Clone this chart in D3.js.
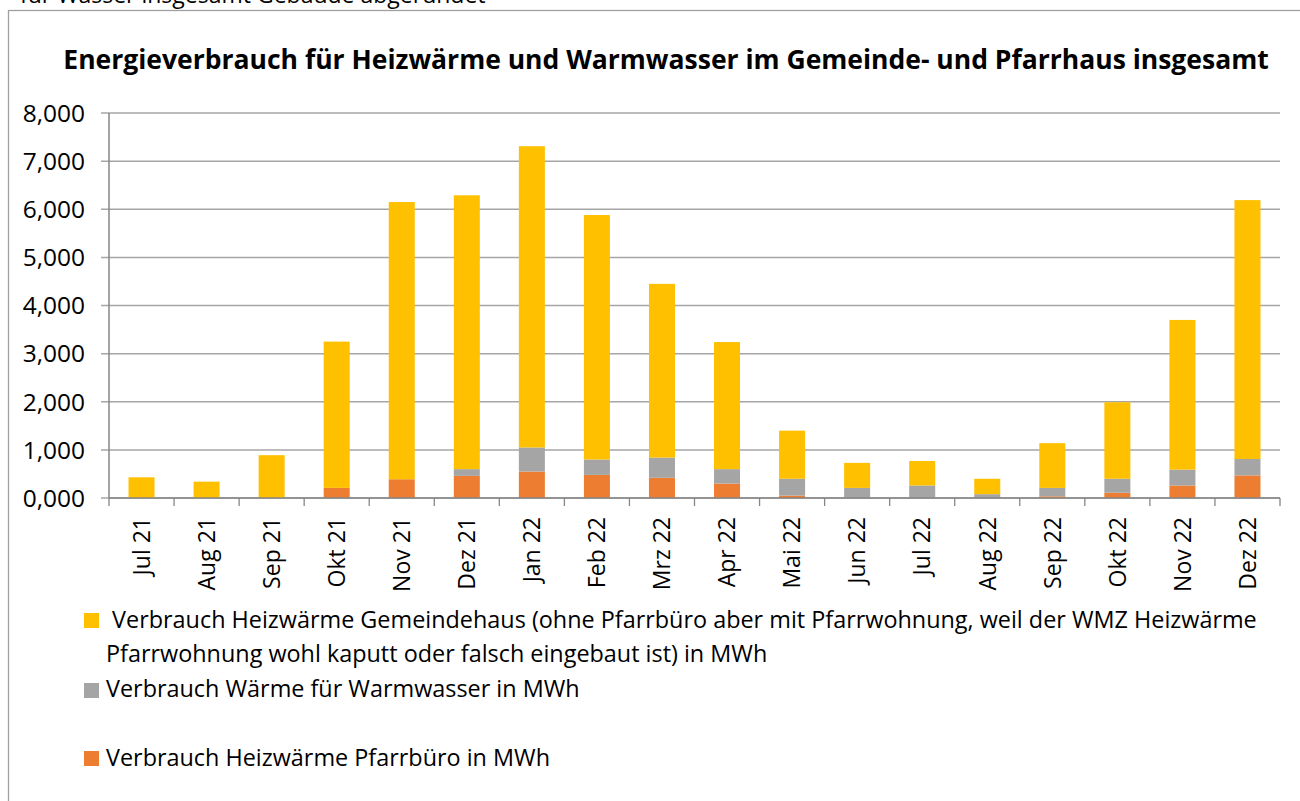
<!DOCTYPE html>
<html>
<head>
<meta charset="utf-8">
<script src="https://cdn.jsdelivr.net/npm/d3@7"></script>
<style>
  body { margin: 0; background: #fff; }
  svg { display: block; font-family: "Open Sans", sans-serif; }
</style>
</head>
<body>
<div id="chart"></div>
<script>
// Monthly consumption, stacked: Pfarrbüro (bottom), Warmwasser, Gemeindehaus (top)
const months = ["Jul 21", "Aug 21", "Sep 21", "Okt 21", "Nov 21", "Dez 21", "Jan 22", "Feb 22", "Mrz 22",
    "Apr 22", "Mai 22", "Jun 22", "Jul 22", "Aug 22", "Sep 22", "Okt 22", "Nov 22", "Dez 22"];
const pfarrbuero = [0, 0, 0, 0.21, 0.39, 0.46, 0.55, 0.48, 0.42, 0.30, 0.05, 0, 0, 0, 0.035, 0.11, 0.26, 0.47];
const warmwasser = [0, 0, 0, 0, 0, 0.14, 0.50, 0.32, 0.42, 0.30, 0.35, 0.21, 0.26, 0.08, 0.175, 0.29, 0.33, 0.34];
const gemeindehaus = [0.43, 0.34, 0.89, 3.04, 5.76, 5.69, 6.26, 5.08, 3.61, 2.64, 1.00, 0.52, 0.51, 0.32, 0.93, 1.59, 3.11, 5.38];
const yTicks = [0, 1, 2, 3, 4, 5, 6, 7, 8];

const seriesNames = [
    " Verbrauch Heizwärme Gemeindehaus (ohne Pfarrbüro aber mit Pfarrwohnung, weil der WMZ Heizwärme",
    "Verbrauch Wärme für Warmwasser in MWh",
    "Verbrauch Heizwärme Pfarrbüro in MWh"
];
const colors = { pfarrbuero: "#ED7D31", warmwasser: "#A5A5A5", gemeindehaus: "#FFC000" };

const width = 1300, height = 801;

const svg = d3.select("#chart").append("svg").attr("width", width).attr("height", height);

// partially cut text above the chart frame
svg.append("text")
    .attr("x", 20).attr("y", 3)
    .attr("font-size", 23)
    .attr("fill", "#000")
    .text("für Wasser insgesamt Gebäude abgerundet");

svg.append("rect")
    .attr("x", 8.5).attr("y", 10.5)
    .attr("width", 1310).attr("height", 820)
    .attr("fill", "none").attr("stroke", "#a0a0a0").attr("stroke-width", 1.3);

svg.append("text")
    .attr("x", 666).attr("y", 69)
    .attr("text-anchor", "middle")
    .attr("font-size", 26.5).attr("font-weight", "bold")
    .text("Energieverbrauch für Heizwärme und Warmwasser im Gemeinde- und Pfarrhaus insgesamt");

const x = d3.scaleBand().domain(months).range([109, 1280]).paddingInner(0.6).paddingOuter(0.3);
const y = d3.scaleLinear().domain([0, 8]).range([498, 113]);

const fmt = v => d3.format(".3f")(v).replace(".", ",");

// gridlines
svg.append("g")
    .selectAll("line")
    .data(yTicks)
    .join("line")
    .attr("x1", 101).attr("x2", 1280)
    .attr("y1", d => y(d)).attr("y2", d => y(d))
    .attr("stroke", "#a6a6a6").attr("stroke-width", 1.5);

svg.append("g")
    .selectAll("text")
    .data(yTicks)
    .join("text")
    .attr("x", 85).attr("y", d => y(d))
    .attr("dy", "0.36em")
    .attr("text-anchor", "end")
    .attr("font-size", 24.5)
    .text(fmt);

const rows = months.map((m, i) => ({ month: m, pfarrbuero: pfarrbuero[i], warmwasser: warmwasser[i], gemeindehaus: gemeindehaus[i] }));
const stack = d3.stack().keys(["pfarrbuero", "warmwasser", "gemeindehaus"])(rows);

svg.append("g")
    .selectAll("g")
    .data(stack)
    .join("g")
    .attr("fill", d => colors[d.key])
    .selectAll("rect")
    .data(d => d)
    .join("rect")
    .attr("x", d => x(d.data.month))
    .attr("width", x.bandwidth())
    .attr("y", d => y(d[1]))
    .attr("height", d => y(d[0]) - y(d[1]));

// axes lines
svg.append("line")
    .attr("x1", 109).attr("x2", 109).attr("y1", 113).attr("y2", 498)
    .attr("stroke", "#868686").attr("stroke-width", 1.5);
svg.append("line")
    .attr("x1", 109).attr("x2", 1280).attr("y1", 498).attr("y2", 498)
    .attr("stroke", "#868686").attr("stroke-width", 1.5);

const boundaries = d3.range(months.length + 1).map(i => 109 + i * x.step());
svg.append("g")
    .selectAll("line")
    .data(boundaries)
    .join("line")
    .attr("x1", d => d).attr("x2", d => d)
    .attr("y1", 498).attr("y2", 506)
    .attr("stroke", "#868686").attr("stroke-width", 1.3);

svg.append("g")
    .selectAll("text")
    .data(months)
    .join("text")
    .attr("transform", d => `translate(${x(d) + x.bandwidth() / 2},517) rotate(-90)`)
    .attr("text-anchor", "end")
    .attr("dy", "0.36em")
    .attr("font-size", 23)
    .text(d => d);

// legend
const legend = svg.append("g");
const legendRows = [
    { key: "gemeindehaus", sy: 613, lines: [[106, 628, seriesNames[0]], [106, 662, "Pfarrwohnung wohl kaputt oder falsch eingebaut ist) in MWh"]] },
    { key: "warmwasser", sy: 683, lines: [[106, 697, seriesNames[1]]] },
    { key: "pfarrbuero", sy: 751, lines: [[106, 766, seriesNames[2]]] }
];
legendRows.forEach(r => {
    legend.append("rect")
        .attr("x", 84).attr("y", r.sy).attr("width", 15).attr("height", 15)
        .attr("fill", colors[r.key]);
    r.lines.forEach(([lx, ly, t]) => {
        legend.append("text")
            .attr("x", lx).attr("y", ly)
            .attr("font-size", 23.4)
            .attr("xml:space", "preserve")
            .text(t);
    });
});
</script>
</body>
</html>
